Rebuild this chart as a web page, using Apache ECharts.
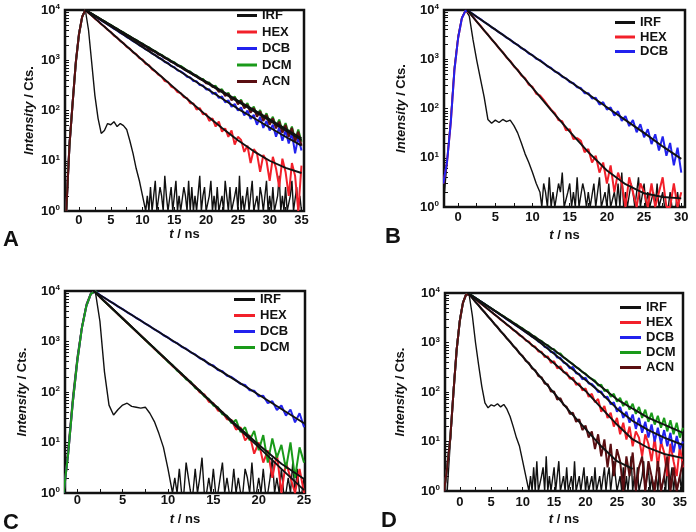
<!DOCTYPE html>
<html>
<head>
<meta charset="utf-8">
<script src="https://cdn.jsdelivr.net/npm/echarts@6/dist/echarts.min.js"></script>
<style>
  html, body { margin: 0; padding: 0; background: #fff; }
  #main { width: 696px; height: 532px; }
</style>
</head>
<body>
<div id="main"></div>
<script>
// detector channels from the first channel with a fixed width
function channels(start, n, step) {
  const out = [];
  for (let i = 0; i < n; i++) out.push(start + step * i);
  return out;
}

// ---------- panel A (t from -2 ns, 0.5 ns channels; IRF tail in 0.25 ns channels) ----------
const tA = channels(-2, 75, 0.5);
const irfA = [1,25,150,950,3500,7500,10000,4000,900,200,70,35,40,55,52,60,48,55,50,42,25,14,7,4,2,1];
const irfTailA = [2,1,3,1,2,4,1,1,3,2, 1,5,2,1,1,3,1,2,4,1, 2,1,1,3,2,1,4,1,3,1, 2,1,1,5,1,2,3,1,1,2,
  4,1,2,1,3,1,1,2,1,4, 2,1,3,1,1,2,3,1,5,1, 2,1,1,3,1,2,4,1,1,2, 1,3,2,1,1,4,1,2,1,3,
  1,1,2,5,1,2,1,3,1,1, 2,4,1,1,3,1,2,1];
const riseA = [1,20,140,900,3300,7300,10000];
const hexA = [8700,7800,6750,6050,5200,4700,4050,3650,3100,2820,
  2400,2190,1850,1700,1430,1320,1100,1030,850,800,
  660,600,515,470,385,370,300,280,232,222,
  185,175,140,138,104,112,84,86,62,70,
  48,60,38,44,30,40,21,30,26,15,
  20,9,17,14,6,13,10,4,12,7,
  3,11,6,2,9,5,1,8];
const dcbA = [9000,8300,7500,6900,6200,5700,5150,4720,4250,3920,
  3510,3250,2900,2690,2400,2230,1990,1850,1640,1540,
  1360,1270,1120,1060,925,880,765,730,630,600,
  545,470,455,385,380,320,315,262,265,215,
  225,178,190,145,160,118,135,100,115,80,
  100,68,82,52,75,45,62,40,52,30,
  46,25,40,22,35,14,30,16];
const dcmA = [9100,8450,7700,7120,6450,6000,5420,5050,4560,4250,
  3830,3580,3220,3010,2700,2540,2270,2140,1900,1810,
  1610,1520,1350,1280,1140,1080,955,910,800,770,
  700,615,595,515,500,430,425,360,360,300,
  310,250,265,205,225,170,190,142,165,118,
  140,98,120,82,102,68,88,58,75,48,
  66,40,56,34,48,26,42,24];
const acnA = [9150,8350,7650,6950,6400,5800,5380,4880,4520,4080,
  3800,3420,3200,2850,2690,2390,2260,1990,1900,1660,
  1560,1470,1300,1250,1100,1040,930,880,780,740,
  660,610,560,510,470,425,400,350,340,295,
  285,235,250,195,215,160,180,132,158,110,
  130,90,112,75,96,62,82,52,70,44,
  60,36,52,30,45,24,38,20];
const fitTA = [1,2.5,5,7.5,10,12.5,15,17.5,20,22.5,25,27.5,30,32.5,35];
const hexFitA = [10000,6813,3594,1896,1004,531,282,151,81,45,25.5,15.4,10,7.2,5.7];
const dcbFitA = [10000,7534,4699,2931,1828,1140,711,444,277,173,108,71,46,30,20];
const dcmFitA = [10000,7727,5012,3254,2113,1372,891,579,376,244,158,103,67,43,28];
const acnFitA = [10000,7691,4966,3206,2070,1337,863,557,360,232,150,97,63,40,26];

// ---------- panel B (t from -2 ns) ----------
const tB = channels(-2, 65, 0.5);
const irfB = [1,8,60,700,3000,7000,10000,7500,2500,950,400,170,60,50,58,52,60,54,58,45,32,20,12,8,5,3,2];
const irfTailB = [1,3,2,1,4,1,2,1,1,3, 2,5,1,1,2,3,1,2,1,4, 1,1,3,2,1,2,1,1,3,1, 2,4,1,1,2,1,3,1,1,2,
  1,3,1,5,1,2,1,1,3,2, 1,2,4,1,1,3,1,2,1,1, 2,1,3,1,1,2,1,1,1,2, 1,1,1,2,1,1];
const riseB = [3,8,50,600,2700,6800,9700];
const hexB = [8800,7250,5800,4800,3820,3180,2520,2100,1660,1390,
  1090,925,715,615,470,410,305,275,198,185,
  150,118,95,80,58,55,36,38,24,25,
  22,13,15,8,11,5,8,3,7,2,
  5,3,1,4,2,1,3,2,1,3,
  1,2,4,1,1,3,1,2];
const dcbB = [9250,8300,7250,6520,5700,5120,4460,4030,3500,3170,
  2740,2490,2150,1960,1680,1540,1310,1215,1020,960,
  840,720,665,560,525,440,410,345,325,270,
  260,205,205,160,165,120,135,95,105,72,
  88,56,70,44,58,33,48,26,38,19,
  30,14,27,11,20,7,16,5];
const fitTB = [1.2,2.5,5,7.5,10,12.5,15,17.5,20,22.5,25,27.5,30];
const hexFitB = [10000,5834,2070,735,261,93,34,13,5.5,2.9,1.9,1.6,1.5];
const dcbFitB = [10000,7305,3990,2181,1191,651,356,194,106,58,32,17,9.5];

// ---------- panel C (t from -1.5 ns) ----------
const tC = channels(-1.5, 54, 0.5);
const irfC = [1,8,80,500,2000,5500,9200,9500,2500,250,55,35,45,55,60,52,50,48,50,38,26,15,8,3,1];
const irfTailC = [2,1,3,1,1,4,2,1,1,3, 1,2,5,1,1,2,1,3,1,1, 2,4,1,2,1,1,3,1,2,1, 1,3,2,1,4,1,1,2,1,3,
  1,1,2,5,1,2,1,3,1,1, 2,1,4,1,3,1,1,2];
const riseC = [1,6,60,400,1800,5000,8800,9900];
const hexC = [7550,6300,5100,4270,3440,2890,2320,1950,1570,1320,
  1060,895,715,605,482,410,325,278,218,190,
  150,130,98,90,64,60,43,40,29,28,
  18,20,11,14,6,10,4,7,2,6,
  1,4,2,1,3,1];
const dcbC = [8300,7350,6400,5670,4920,4380,3790,3380,2920,2610,
  2250,2010,1730,1555,1330,1200,1020,930,785,720,
  610,555,465,430,355,335,272,258,210,198,
  170,145,138,108,106,82,84,60,66,44,
  54,34,45,25,38,20];
const dcmC = [7650,6200,5180,4190,3510,2830,2380,1910,1610,1290,
  1090,870,740,585,500,395,340,265,232,178,
  160,120,108,82,72,54,50,36,34,24,
  28,16,20,11,17,7,14,4,12,5,
  9,3,10,2,8,4];
const fitTC = [1.8,2.5,5,7.5,10,12.5,15,17.5,20,22.5,25];
const hexFitC = [10000,7603,2858,1074,404,152,57,21,8.1,3.0,1.14];
const dcbFitC = [10000,8337,4345,2270,1183,618,322,168,88,46,24];
const dcmFitC = [10000,7650,2880,1085,410,156,59,22.5,9,3.8,1.9];

// ---------- panel D (t from -2.5 ns) ----------
const tD = channels(-2.5, 77, 0.5);
const irfD = [1,1,10,120,800,3000,6500,9500,9000,3500,1000,350,130,60,48,55,52,58,50,56,45,32,20,12,8,4,2,1];
const irfTailD = [2,1,3,1,4,1,1,2,3,1, 5,1,2,1,1,3,1,2,4,1, 1,2,1,3,1,1,2,1,4,1, 1,2,1,1,3,1,2,1,1,2,
  1,3,1,1,2,1,1,3,1,2, 3,1,1,4,2,1,1,2,1,3, 1,2,1,1,5,1,2,1,3,1, 1,2,4,1,1,3,1,2,1,1,
  2,1,3,1,1,2,1,4,1,1, 3,1,2,1,1,2,1,3];
const riseD = [1,3,12,100,700,2700,6300,9300];
const hexD = [9500,8600,7500,6700,5950,5300,4700,4180,3700,3320,
  2880,2620,2270,2080,1780,1650,1400,1300,1100,1040,
  860,820,660,650,510,520,390,420,300,330,
  250,245,185,195,140,150,108,118,80,92,
  62,72,40,52,30,38,20,30,14,24,
  11,20,8,16,12,5,14,9,4,12,
  3,10,6,2,9,4,2,8,3];
const dcbD = [9600,8650,7950,7150,6550,5900,5400,4850,4420,3990,
  3600,3290,2930,2680,2420,2180,1990,1790,1620,1480,
  1310,1230,1040,990,810,790,640,630,495,490,
  395,370,300,320,240,232,180,195,148,145,
  125,100,102,78,80,56,62,40,50,30,
  40,24,35,18,30,15,25,12,22,10,
  19,9,17,8,15,6,13,7,10];
const dcmD = [9600,8750,7900,7230,6500,5960,5350,4920,4420,4080,
  3650,3380,3020,2800,2490,2330,2060,1920,1690,1590,
  1380,1310,1130,1080,920,885,750,730,610,600,
  500,455,400,365,318,292,252,234,200,185,
  170,135,140,104,112,80,92,64,76,52,
  66,44,58,36,50,30,44,25,38,22,
  33,19,30,16,27,14,24,12,19];
const acnD = [9300,7950,6600,5680,4680,4040,3330,2880,2370,2050,
  1680,1460,1200,1040,850,745,600,535,425,385,
  300,275,210,198,148,142,102,102,70,75,
  55,50,36,38,25,28,17,21,12,16,
  7,14,5,11,3,9,2,7,4,1,
  5,2,6,1,3,5,1,4,2,1,
  4,1,2,5,1,3,1,2,4];
const fitTD = [1.3,2.5,5,7.5,10,12.5,15,17.5,20,22.5,25,27.5,30,32.5,35.5];
const hexFitD = [10000,7520,4160,2300,1270,700,380,200,105,48,22,11,7.4,5.6,4.6];
const dcbFitD = [10000,7900,4850,2950,1800,1060,590,320,175,95,46,26,17,12,8.5];
const dcmFitD = [10000,7930,4890,3050,1900,1160,706,402,229,127,71,46,30,22,15];
const acnFitD = [10000,6650,2845,1216,521,224,95,40,18,8,4,2.8];

const COLORS = { IRF: '#111111', HEX: '#f2202a', DCB: '#2222ee', DCM: '#1a9a1a', ACN: '#5a0e12' };
const FONT = 'Liberation Sans, Arial, sans-serif';

function zip(ts, vs) {
  return vs.map((v, i) => [ts[i], v]);
}

function dataSeries(name, idx, points, width) {
  return {
    name: name, type: 'line', xAxisIndex: idx, yAxisIndex: idx,
    data: points, showSymbol: false, symbol: 'none',
    color: COLORS[name], lineStyle: { width: width || 2, color: COLORS[name] },
    animation: false, silent: true
  };
}

function irfSeries(idx, ts, head, tailStart, tail) {
  const pts = zip(ts, head).concat(zip(channels(tailStart, tail.length, 0.25), tail));
  return dataSeries('IRF', idx, pts, 1.4);
}

function fitSeries(idx, ts, vs) {
  return {
    type: 'line', xAxisIndex: idx, yAxisIndex: idx,
    data: zip(ts, vs), showSymbol: false, symbol: 'none',
    lineStyle: { width: 1.9, color: '#111' },
    animation: false, silent: true, z: 3
  };
}

const yTicks = [];
[1, 10, 100, 1000].forEach(d => { for (let k = 1; k < 10; k++) yTicks.push(d * k); });
yTicks.push(10000);

const grids = [
  { left: 65, top: 10, width: 239, height: 201 },
  { left: 444, top: 10, width: 241, height: 197 },
  { left: 65, top: 291, width: 240, height: 202 },
  { left: 445, top: 293, width: 238, height: 198 }
];
const xRanges = [[-2.2, 35.4], [-1.9, 30.5], [-1.35, 25.1], [-2.35, 35.5]];
const xMaxLabel = [35, 30, 25, 35];
const xLabelMargin = [3, 4, 1, 5];
const xNameGap = [16, 22, 20, 22];
const yNameGap = [29, 36, 36, 38];

function steps(max, step) {
  const out = [];
  for (let v = 0; v <= max + 1e-9; v += step) out.push(v);
  return out;
}

const xAxes = grids.map((g, k) => ({
  gridIndex: k, type: 'value', min: xRanges[k][0], max: xRanges[k][1],
  axisLine: { show: false, onZero: false }, splitLine: { show: false },
  axisTick: { show: true, inside: true, length: 4, customValues: steps(xMaxLabel[k], 2.5),
    lineStyle: { color: '#111', width: 1 } },
  axisLabel: { customValues: steps(xMaxLabel[k], 5), margin: xLabelMargin[k],
    fontSize: 13, fontWeight: 'bold', color: '#111', fontFamily: FONT },
  name: '{i|t} / ns', nameLocation: 'middle', nameGap: xNameGap[k],
  nameTextStyle: { fontSize: 13, fontWeight: 'bold', color: '#111', fontFamily: FONT,
    rich: { i: { fontStyle: 'italic', fontSize: 13, fontWeight: 'bold', color: '#111', fontFamily: FONT } } }
}));

const yAxes = grids.map((g, k) => ({
  gridIndex: k, type: 'log', logBase: 10, min: 1, max: 10000,
  axisLine: { show: false, onZero: false }, splitLine: { show: false },
  axisTick: { show: true, inside: true, length: 4, customValues: yTicks,
    lineStyle: { color: '#111', width: 1 } },
  axisLabel: {
    customValues: [1, 10, 100, 1000, 10000], margin: 5,
    formatter: v => '{b|10}{s|' + Math.round(Math.log10(v)) + '}',
    rich: {
      b: { fontSize: 13, fontWeight: 'bold', color: '#111', fontFamily: FONT },
      s: { fontSize: 8, fontWeight: 'bold', color: '#111', fontFamily: FONT, verticalAlign: 'top', padding: [0, 0, 6, 0] }
    }
  },
  name: '{i|Intensity} / Cts.', nameLocation: 'middle', nameGap: yNameGap[k], nameRotate: 90,
  nameTextStyle: { fontSize: 13, fontWeight: 'bold', color: '#111', fontFamily: FONT,
    rich: { i: { fontStyle: 'italic', fontSize: 13, fontWeight: 'bold', color: '#111', fontFamily: FONT } } }
}));

const series = [
  // A
  irfSeries(0, tA, irfA, 10.75, irfTailA),
  dataSeries('HEX', 0, zip(tA, riseA.concat(hexA))),
  dataSeries('DCB', 0, zip(tA, riseA.concat(dcbA))),
  dataSeries('DCM', 0, zip(tA, riseA.concat(dcmA))),
  dataSeries('ACN', 0, zip(tA, riseA.concat(acnA))),
  fitSeries(0, fitTA, hexFitA), fitSeries(0, fitTA, dcbFitA),
  fitSeries(0, fitTA, dcmFitA), fitSeries(0, fitTA, acnFitA),
  // B
  irfSeries(1, tB, irfB, 11.25, irfTailB),
  dataSeries('HEX', 1, zip(tB, riseB.concat(hexB))),
  dataSeries('DCB', 1, zip(tB, riseB.concat(dcbB))),
  fitSeries(1, fitTB, hexFitB), fitSeries(1, fitTB, dcbFitB),
  // C
  irfSeries(2, tC, irfC, 10.75, irfTailC),
  dataSeries('HEX', 2, zip(tC, riseC.concat(hexC))),
  dataSeries('DCB', 2, zip(tC, riseC.concat(dcbC))),
  dataSeries('DCM', 2, zip(tC, riseC.concat(dcmC))),
  fitSeries(2, fitTC, hexFitC), fitSeries(2, fitTC, dcbFitC), fitSeries(2, fitTC, dcmFitC),
  // D
  irfSeries(3, tD, irfD, 11.25, irfTailD),
  dataSeries('HEX', 3, zip(tD, riseD.concat(hexD))),
  dataSeries('DCB', 3, zip(tD, riseD.concat(dcbD))),
  dataSeries('DCM', 3, zip(tD, riseD.concat(dcmD))),
  dataSeries('ACN', 3, zip(tD, riseD.concat(acnD))),
  fitSeries(3, fitTD, hexFitD), fitSeries(3, fitTD, dcbFitD),
  fitSeries(3, fitTD, dcmFitD), fitSeries(3, fitTD.slice(0, acnFitD.length), acnFitD)
];

function legendAt(names, left, top, gap, w) {
  return {
    data: names, left: left, top: top, orient: 'vertical', itemGap: gap,
    itemWidth: w, itemHeight: 3, icon: 'rect', selectedMode: false, padding: 0,
    textStyle: { fontSize: 13, fontWeight: 'bold', color: '#111', fontFamily: FONT, lineHeight: 13 }
  };
}

const panelLabel = (text, left, top) => ({
  text: text, left: left, top: top, padding: 0,
  textStyle: { fontSize: 22, fontWeight: 'bold', color: '#111', fontFamily: FONT }
});

const chart = echarts.init(document.getElementById('main'));
chart.setOption({
  backgroundColor: '#fff',
  animation: false,
  title: [panelLabel('A', 3, 229), panelLabel('B', 385, 226), panelLabel('C', 3, 512), panelLabel('D', 381, 510)],
  legend: [
    legendAt(['IRF', 'HEX', 'DCB', 'DCM', 'ACN'], 237, 9, 3.5, 20),
    legendAt(['IRF', 'HEX', 'DCB'], 615, 16, 1.5, 20),
    legendAt(['IRF', 'HEX', 'DCB', 'DCM'], 234, 293, 3, 21),
    legendAt(['IRF', 'HEX', 'DCB', 'DCM', 'ACN'], 620, 301, 2, 21)
  ],
  grid: grids.map(g => Object.assign({ show: true, borderColor: '#111', borderWidth: 2.5, backgroundColor: 'transparent' }, g)),
  xAxis: xAxes,
  yAxis: yAxes,
  series: series
});
</script>
</body>
</html>
